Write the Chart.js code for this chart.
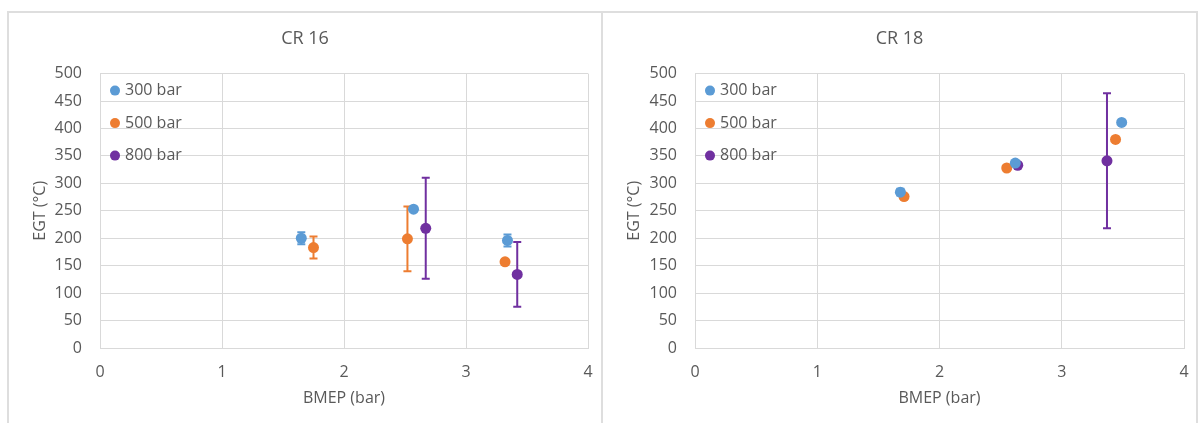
<!DOCTYPE html>
<html>
<head>
<meta charset="utf-8">
<script src="https://cdn.jsdelivr.net/npm/chart.js@4"></script>
<style>
  body { margin: 0; background: #fff; width: 1200px; height: 423px; overflow: hidden; position: relative; }
  .panel { position: absolute; top: 11px; height: 420px; border: 2px solid #dedede; background: #fff; }
  #p16 { left: 7px; width: 592px; }
  #p18 { left: 601px; width: 593px; }
  canvas { display: block; }
</style>
</head>
<body>
<div class="panel" id="p16"><canvas id="c16" width="592" height="410"></canvas></div>
<div class="panel" id="p18"><canvas id="c18" width="593" height="410"></canvas></div>
<script>
// series labels + colors
const seriesNames = ["300 bar", "500 bar", "800 bar"];
const seriesColors = ["#5B9BD5", "#ED7D31", "#7030A0"];

// x ticks / y ticks
const xTicks = [0, 1, 2, 3, 4];
const yTicks = [0, 50, 100, 150, 200, 250, 300, 350, 400, 450, 500];

// CR 16
const bmep300_16 = [1.65, 2.57, 3.34];
const egt300_16 = [200, 253, 196];
const err300_16 = [11, 4, 11];
const bmep500_16 = [1.75, 2.52, 3.32];
const egt500_16 = [183, 199, 157];
const err500_16 = [20, 59, 5];
const bmep800_16 = [2.67, 3.42];
const egt800_16 = [218, 134];
const err800_16 = [92, 59];

// CR 18
const bmep300_18 = [1.68, 2.62, 3.49];
const egt300_18 = [284, 337, 411];
const err300_18 = [6, 3, 0];
const bmep500_18 = [1.71, 2.55, 3.44];
const egt500_18 = [276, 328, 380];
const err500_18 = [0, 0, 0];
const bmep800_18 = [2.64, 3.37];
const egt800_18 = [333, 341];
const err800_18 = [0, 123];

const fontFam = "'Open Sans', 'Noto Sans', sans-serif";
const textColor = "#595959";
const gridColor = "#d9d9d9";

const toPoints = (xs, ys) => xs.map((x, i) => ({ x: x, y: ys[i] }));

// vertical error bars with caps, drawn under the markers
const errorBars = {
  id: "errorBars",
  beforeDatasetsDraw(chart) {
    const ctx = chart.ctx;
    const xs = chart.scales.x;
    const ys = chart.scales.y;
    chart.data.datasets.forEach((ds) => {
      ctx.save();
      ctx.strokeStyle = ds.backgroundColor;
      ctx.lineWidth = 2;
      ds.data.forEach((p, i) => {
        const e = ds.errors[i];
        if (!e) return;
        const px = xs.getPixelForValue(p.x);
        const top = ys.getPixelForValue(p.y + e);
        const bot = ys.getPixelForValue(p.y - e);
        ctx.beginPath();
        ctx.moveTo(px, top);
        ctx.lineTo(px, bot);
        ctx.moveTo(px - 4, top);
        ctx.lineTo(px + 4, top);
        ctx.moveTo(px - 4, bot);
        ctx.lineTo(px + 4, bot);
        ctx.stroke();
      });
      ctx.restore();
    });
  },
};

// legend inside the plot area, top-left, transparent
const innerLegend = {
  id: "innerLegend",
  afterDatasetsDraw(chart) {
    const ctx = chart.ctx;
    const a = chart.chartArea;
    ctx.save();
    ctx.font = "16px " + fontFam;
    ctx.textBaseline = "middle";
    chart.data.datasets.forEach((ds, i) => {
      const y = a.top + 17 + i * 32.5;
      ctx.fillStyle = ds.backgroundColor;
      ctx.beginPath();
      ctx.arc(a.left + 15, y, 5, 0, Math.PI * 2);
      ctx.fill();
      ctx.fillStyle = textColor;
      ctx.fillText(ds.label, a.left + 25, y);
    });
    ctx.restore();
  },
};

const buildChart = (id, title, sets, yWidth, rightPad) => {
  const datasets = sets.map((s, i) => ({
    label: seriesNames[i],
    data: toPoints(s[0], s[1]),
    errors: s[2],
    backgroundColor: seriesColors[i],
    borderColor: seriesColors[i],
    pointRadius: 5.5,
    pointHoverRadius: 5.5,
    borderWidth: 0,
  }));

  const config = {
    type: "scatter",
    data: { datasets: datasets },
    options: {
      responsive: false,
      animation: false,
      layout: { padding: 0 },
      plugins: {
        legend: { display: false },
        tooltip: { enabled: false },
        title: {
          display: true,
          text: title,
          color: textColor,
          font: { family: fontFam, size: 18, weight: "normal" },
          padding: { top: 15, bottom: 24 },
        },
      },
      scales: {
        x: {
          type: "linear",
          min: 0,
          max: 4,
          afterBuildTicks: (scale) => { scale.ticks = xTicks.map((v) => ({ value: v })); },
          afterFit: (scale) => {
            scale.height = 75;
            scale.paddingLeft = 0;
            scale.paddingRight = rightPad;
          },
          grid: { color: gridColor, drawTicks: false },
          border: { color: gridColor },
          ticks: { color: textColor, padding: 15, font: { family: fontFam, size: 16 } },
          title: {
            display: true,
            text: "BMEP (bar)",
            color: textColor,
            font: { family: fontFam, size: 16 },
            padding: { top: 15, bottom: 15 },
          },
        },
        y: {
          type: "linear",
          min: 0,
          max: 500,
          afterBuildTicks: (scale) => { scale.ticks = yTicks.map((v) => ({ value: v })); },
          afterFit: (scale) => {
            scale.width = yWidth;
            scale.paddingTop = 0;
            scale.paddingBottom = 0;
          },
          grid: { color: gridColor, drawTicks: false },
          border: { color: gridColor },
          ticks: { color: textColor, padding: 18, font: { family: fontFam, size: 16 } },
          title: {
            display: true,
            text: "EGT (°C)",
            color: textColor,
            font: { family: fontFam, size: 16 },
            padding: { top: 22, bottom: 22 },
          },
        },
      },
    },
    plugins: [errorBars, innerLegend],
  };

  return new Chart(document.getElementById(id), config);
};

buildChart("c16", "CR 16", [
  [bmep300_16, egt300_16, err300_16],
  [bmep500_16, egt500_16, err500_16],
  [bmep800_16, egt800_16, err800_16],
], 91, 13);

buildChart("c18", "CR 18", [
  [bmep300_18, egt300_18, err300_18],
  [bmep500_18, egt500_18, err500_18],
  [bmep800_18, egt800_18, err800_18],
], 92, 12);
</script>
</body>
</html>
